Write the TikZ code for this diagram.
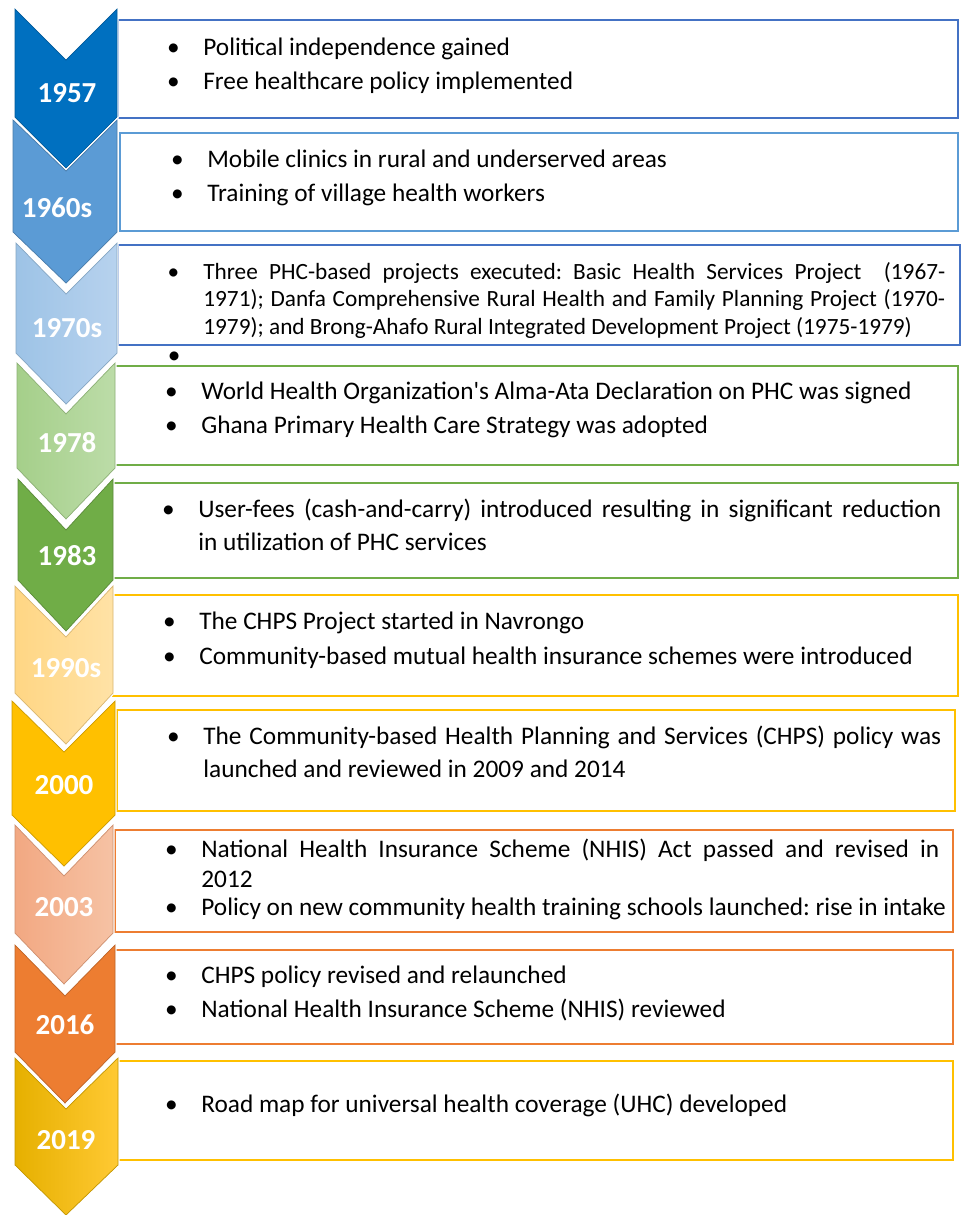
\documentclass[tikz,border=0pt]{standalone}
\usepackage{fontspec}
\setmainfont{Carlito}
\usepackage{xcolor}
\usepackage{tikz}
\definecolor{frBlue}{HTML}{4472C4}
\definecolor{frSky}{HTML}{5B9BD5}
\definecolor{frGreen}{HTML}{70AD47}
\definecolor{frGold}{HTML}{FFC000}
\definecolor{frOrange}{HTML}{ED7D31}
\definecolor{c1957}{HTML}{0070C0}
\definecolor{c1960}{HTML}{5B9BD5}
\definecolor{c1970a}{HTML}{9DC3E6}
\definecolor{c1970b}{HTML}{B7D2EE}
\definecolor{c1978a}{HTML}{A5CF8A}
\definecolor{c1978b}{HTML}{BCDCA8}
\definecolor{c1983}{HTML}{70AD47}
\definecolor{c1990a}{HTML}{FFD684}
\definecolor{c1990b}{HTML}{FFE2A6}
\definecolor{c2000}{HTML}{FFC000}
\definecolor{c2003a}{HTML}{F2A882}
\definecolor{c2003b}{HTML}{F6C2A4}
\definecolor{c2016}{HTML}{ED7D31}
\definecolor{c2019a}{HTML}{E6B000}
\definecolor{c2019b}{HTML}{FFC933}
\frenchspacing
% bullet hung in the left margin of an item
\newcommand\itm{\llap{\makebox[1.2cm][c]{\textbullet}}}

\begin{document}
\begin{tikzpicture}[
  x=0.02cm, y=-0.02cm,
  frame/.style={draw=#1, line width=1.1pt},
  chev/.style={preaction={draw=white, line width=1.8pt}, fill=#1,
               draw=#1!80!black, line width=0.4pt},
  chevfade/.style 2 args={preaction={draw=white, line width=1.8pt},
               left color=#1, right color=#2, draw=#1!85!black, line width=0.4pt},
  year/.style={text=white, font=\fontsize{16.5}{18}\selectfont\bfseries},
  item/.style={anchor=base west, inner sep=0pt, font=\fontsize{14.4}{18.8}\selectfont},
  para/.style={item, text width=#1, align=justify}
]
  \useasboundingbox (0,0) rectangle (961,1215);

  % text frames
  \draw[frame=frBlue]   (118,20)   rectangle (958,118);
  \draw[frame=frSky]    (120,133)  rectangle (958,231);
  \draw[frame=frBlue]   (118,245)  rectangle (960,345);
  \draw[frame=frGreen]  (115,366)  rectangle (958,465);
  \draw[frame=frGreen]  (113,483)  rectangle (958,578);
  \draw[frame=frGold]   (113,595)  rectangle (958,696);
  \draw[frame=frGold]   (117,710)  rectangle (955,811);
  \draw[frame=frOrange] (115,830)  rectangle (953,932);
  \draw[frame=frOrange] (115,950)  rectangle (953,1044);
  \draw[frame=frGold]   (117,1061) rectangle (953,1160);

  % chevrons
  \path[chev=c1957] (15,9) -- (66,60) -- (117,9) -- (117,117) -- (66,168) -- (15,117) -- cycle;
  \path[chev=c1960] (13,120) -- (66,171) -- (117,120) -- (117,232) -- (66,283) -- (13,232) -- cycle;
  \path[chevfade={c1970a}{c1970b}] (16,243) -- (66,294) -- (117,243) -- (117,353) -- (66,404) -- (16,353) -- cycle;
  \path[chevfade={c1978a}{c1978b}] (17,363) -- (66,414) -- (115,363) -- (115,468) -- (66,519) -- (17,468) -- cycle;
  \path[chev=c1983] (18,479) -- (66,530) -- (113,479) -- (113,580) -- (66,631) -- (18,580) -- cycle;
  \path[chevfade={c1990a}{c1990b}] (15,586) -- (66,637) -- (113,586) -- (113,693) -- (66,744) -- (15,693) -- cycle;
  \path[chev=c2000] (12,701) -- (64,752) -- (115,701) -- (115,815) -- (64,866) -- (12,815) -- cycle;
  \path[chevfade={c2003a}{c2003b}] (15,825) -- (64,876) -- (113,825) -- (113,933) -- (64,984) -- (15,933) -- cycle;
  \path[chev=c2016] (15,945) -- (65,996) -- (115,945) -- (115,1052) -- (65,1103) -- (15,1052) -- cycle;
  \path[chevfade={c2019a}{c2019b}] (15,1058) -- (66,1109) -- (118,1058) -- (118,1165) -- (66,1215) -- (15,1165) -- cycle;

  % years
  \node[year] (y1957) at (67,93)   {1957};
  \node[year] (y1960) at (57,208)  {1960s};
  \node[year] (y1970) at (67,328)  {1970s};
  \node[year] (y1978) at (67,443)  {1978};
  \node[year] (y1983) at (67,556)  {1983};
  \node[year] (y1990) at (66,668)  {1990s};
  \node[year] (y2000) at (64,785)  {2000};
  \node[year] (y2003) at (64,907)  {2003};
  \node[year] (y2016) at (65,1025) {2016};
  \node[year] (y2019) at (66,1140) {2019};

  % events
  \node[item] (e1957a) at (203,55) {\itm Political independence gained};
  \node[item] (e1957b) at (203,89) {\itm Free healthcare policy implemented};
  \node[item] (e1960a) at (207,167) {\itm Mobile clinics in rural and underserved areas};
  \node[item] (e1960b) at (207,201) {\itm Training of village health workers};
  \node[para=14.84cm, font=\fontsize{13.25}{15.9}\selectfont] (e1970a) at (203,279)
    {\itm Three PHC-based projects executed: Basic Health Services Project\ \ (1967-\linebreak
     1971); Danfa Comprehensive Rural Health and Family Planning Project (1970-\linebreak
     1979); and Brong-Ahafo Rural Integrated Development Project (1975-1979)};
  \node[item] (e1970b) at (203,363) {\itm};
  \node[item] (e1978a) at (201,399) {\itm World Health Organization\textquotesingle s Alma-Ata Declaration on PHC was signed};
  \node[item] (e1978b) at (201,433) {\itm Ghana Primary Health Care Strategy was adopted};
  \node[para=14.86cm] (e1983a) at (198,517)
    {\itm User-fees (cash-and-carry) introduced resulting in significant reduction\linebreak
     in utilization of PHC services};
  \node[item] (e1990a) at (199,629) {\itm The CHPS Project started in Navrongo};
  \node[item] (e1990b) at (199,664) {\itm Community-based mutual health insurance schemes were introduced};
  \node[para=14.76cm] (e2000a) at (203,744)
    {\itm The Community-based Health Planning and Services (CHPS) policy was\linebreak
     launched and reviewed in 2009 and 2014};
  \node[para=14.76cm, font=\fontsize{14.4}{17.6}\selectfont] (e2003a) at (201,857)
    {\itm National Health Insurance Scheme (NHIS) Act passed and revised in\linebreak 2012};
  \node[item] (e2003b) at (201,915) {\itm Policy on new community health training schools launched: rise in intake};
  \node[item] (e2016a) at (201,983) {\itm CHPS policy revised and relaunched};
  \node[item] (e2016b) at (201,1017) {\itm National Health Insurance Scheme (NHIS) reviewed};
  \node[item] (e2019a) at (201,1112) {\itm Road map for universal health coverage (UHC) developed};
\end{tikzpicture}
\end{document}
